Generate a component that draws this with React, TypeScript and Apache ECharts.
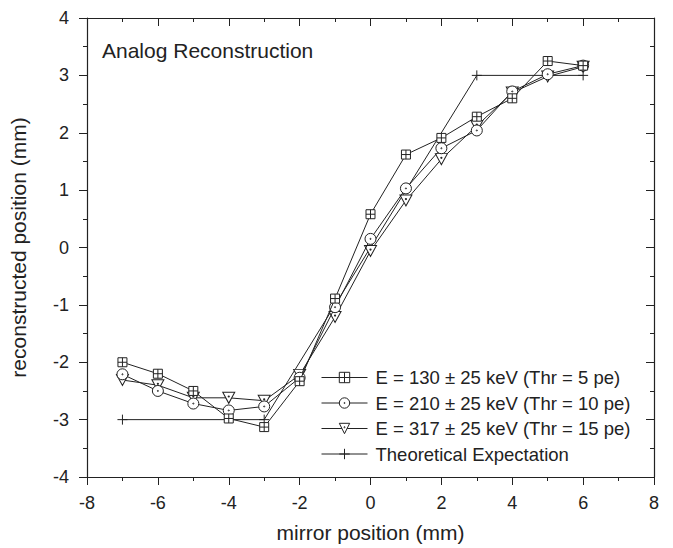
import React, { useEffect, useRef } from "react";
import * as echarts from "echarts";

// ---- data ----
const mirrorPositions = [-7, -6, -5, -4, -3, -2, -1, 0, 1, 2, 3, 4, 5, 6];
const e130 = [-2.0, -2.2, -2.5, -2.98, -3.13, -2.33, -0.89, 0.58, 1.62, 1.91, 2.28, 2.6, 3.25, 3.17];
const e210 = [-2.21, -2.5, -2.72, -2.84, -2.77, -2.27, -1.04, 0.15, 1.03, 1.73, 2.04, 2.72, 3.02, 3.17];
const e317 = [-2.31, -2.4, -2.62, -2.62, -2.67, -2.22, -1.21, -0.06, 0.82, 1.54, 2.12, 2.7, 2.98, 3.15];
const theoryX = [-7, -3, 3, 6];
const theoryY = [-3, -3, 3, 3];

const seriesNames = [
  "E = 130 ± 25 keV (Thr = 5 pe)",
  "E = 210 ± 25 keV (Thr = 10 pe)",
  "E = 317 ± 25 keV (Thr = 15 pe)",
  "Theoretical Expectation",
];

const INK = "#222";
const FONT = "'Liberation Sans', Arial, Helvetica, sans-serif";

const SYM_SQUARE_CROSS = "path://M0,0L10,0L10,10L0,10Z M5,0L5,10 M0,5L10,5";
const SYM_CIRCLE_DOT =
  "path://M0,5A5,5,0,1,1,10,5A5,5,0,1,1,0,5Z M4.5,5A0.5,0.5,0,1,1,5.5,5A0.5,0.5,0,1,1,4.5,5Z";
const SYM_TRI_DOT =
  "path://M0,0L10,0L5,9Z M4.5,3.4A0.5,0.5,0,1,1,5.5,3.4A0.5,0.5,0,1,1,4.5,3.4Z";
const SYM_PLUS = "path://M5,0L5,10 M0,5L10,5";

function pairs(xs: number[], ys: number[]) {
  return xs.map((x, i) => [x, ys[i]]);
}

export default function App() {
  const ref = useRef<HTMLDivElement>(null);

  useEffect(() => {
    if (!ref.current) return;
    const chart = echarts.init(ref.current, undefined, { renderer: "svg" });

    const tickLine = { color: INK, width: 1 };
    const baseLine = { show: true, onZero: false, lineStyle: { color: INK, width: 1.2 } };

    const mkSeries = (name: string, data: number[][], symbol: string, size: number[], z: number) => ({
      name,
      type: "line",
      data,
      symbol,
      symbolSize: size,
      symbolKeepAspect: false,
      showSymbol: true,
      lineStyle: { color: INK, width: 1 },
      itemStyle: { color: "#fff", borderColor: INK, borderWidth: 1 },
      z,
      emphasis: { disabled: true },
    });

    chart.setOption({
      animation: false,
      backgroundColor: "#fff",
      textStyle: { fontFamily: FONT, color: INK },
      title: {
        text: "Analog Reconstruction",
        left: 102,
        top: 40,
        padding: 0,
        textStyle: { fontFamily: FONT, fontSize: 21, fontWeight: "normal", color: INK },
      },
      grid: { left: 84, top: 18, width: 570, height: 461, containLabel: false },
      legend: {
        orient: "vertical",
        left: 321,
        top: 368,
        padding: 0,
        itemGap: 6.5,
        itemWidth: 46,
        itemHeight: 13,
        selectedMode: false,
        itemStyle: { borderWidth: 1 },
        lineStyle: { width: 1 },
        textStyle: { fontFamily: FONT, fontSize: 18.5, color: INK, padding: [0, 0, 0, 3] },
        data: seriesNames,
      },
      xAxis: [
        {
          type: "value",
          position: "bottom",
          min: -8,
          max: 8,
          interval: 2,
          name: "mirror position (mm)",
          nameLocation: "middle",
          nameGap: 45,
          nameTextStyle: { fontFamily: FONT, fontSize: 21, color: INK },
          axisLine: baseLine,
          axisTick: { show: true, inside: false, length: 8, lineStyle: tickLine },
          minorTick: { show: true, splitNumber: 2, length: 4, lineStyle: tickLine },
          axisLabel: { fontFamily: FONT, fontSize: 18, color: INK, margin: 17 },
          splitLine: { show: false },
        },
        {
          type: "value",
          position: "top",
          min: -8,
          max: 8,
          interval: 2,
          axisLine: baseLine,
          axisTick: { show: true, inside: true, length: 8, lineStyle: tickLine },
          minorTick: { show: true, splitNumber: 2, length: 4, lineStyle: tickLine },
          axisLabel: { show: false },
          splitLine: { show: false },
        },
      ],
      yAxis: [
        {
          type: "value",
          position: "left",
          min: -4,
          max: 4,
          interval: 1,
          name: "reconstructed position (mm)",
          nameLocation: "middle",
          nameGap: 58,
          nameTextStyle: { fontFamily: FONT, fontSize: 21, color: INK },
          axisLine: baseLine,
          axisTick: { show: true, inside: false, length: 8, lineStyle: tickLine },
          minorTick: { show: true, splitNumber: 2, length: 4, lineStyle: tickLine },
          axisLabel: { fontFamily: FONT, fontSize: 18, color: INK, margin: 18 },
          splitLine: { show: false },
        },
        {
          type: "value",
          position: "right",
          min: -4,
          max: 4,
          interval: 1,
          axisLine: baseLine,
          axisTick: { show: true, inside: true, length: 8, lineStyle: tickLine },
          minorTick: { show: true, splitNumber: 2, length: 4, lineStyle: tickLine },
          axisLabel: { show: false },
          splitLine: { show: false },
        },
      ],
      series: [
        mkSeries(seriesNames[3], pairs(theoryX, theoryY), SYM_PLUS, [10, 10], 2),
        mkSeries(seriesNames[2], pairs(mirrorPositions, e317), SYM_TRI_DOT, [12, 11], 3),
        mkSeries(seriesNames[1], pairs(mirrorPositions, e210), SYM_CIRCLE_DOT, [11, 11], 4),
        mkSeries(seriesNames[0], pairs(mirrorPositions, e130), SYM_SQUARE_CROSS, [9, 9], 5),
      ],
    });

    return () => chart.dispose();
  }, []);

  return (
    <div
      ref={ref}
      style={{ position: "absolute", left: 0, top: 0, width: 673, height: 548 }}
    />
  );
}
